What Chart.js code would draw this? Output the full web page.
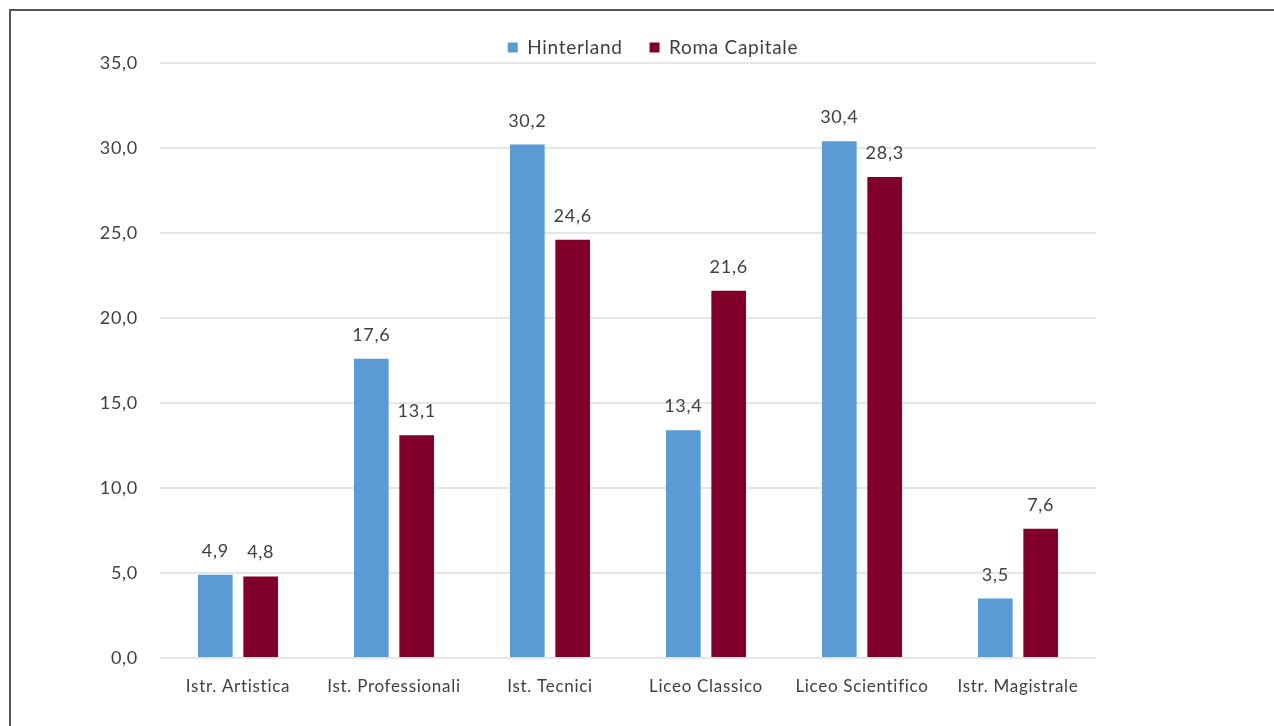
<!DOCTYPE html>
<html>
<head>
<meta charset="utf-8">
<script src="https://cdn.jsdelivr.net/npm/chart.js@4/dist/chart.umd.min.js"></script>
<style>
  html, body { margin: 0; padding: 0; background: #ffffff; overflow: hidden; }
  body { width: 1274px; height: 726px; position: relative; }
  #frame { position: absolute; left: 9px; top: 9px; width: 2000px; height: 2000px; border: 2px solid #555555; box-sizing: border-box; }
  #wrap { position: absolute; left: 0; top: 0; width: 1274px; height: 726px; }
</style>
</head>
<body>
<div id="frame"></div>
<div id="wrap"><canvas id="c" width="1274" height="726"></canvas></div>
<script>
const categories = ['Istr. Artistica', 'Ist. Professionali', 'Ist. Tecnici', 'Liceo Classico', 'Liceo Scientifico', 'Istr. Magistrale'];
const hinterland = [4.9, 17.6, 30.2, 13.4, 30.4, 3.5];
const romaCapitale = [4.8, 13.1, 24.6, 21.6, 28.3, 7.6];
const seriesNames = ['Hinterland', 'Roma Capitale'];
const yTicks = [0, 5, 10, 15, 20, 25, 30, 35];

const FONT = 'Lato';
const SPACING = '0.7px';
const fmt = v => v.toFixed(1).replace('.', ',');

const legendShift = { dx: 105, dy: 4 };

const helperPlugin = {
  id: 'helper',
  beforeLayout(chart) { chart.ctx.letterSpacing = SPACING; },
  beforeDraw(chart) { chart.ctx.letterSpacing = SPACING; },
  afterLayout(chart) {
    const lg = chart.legend;
    if (lg) {
      lg.left += legendShift.dx; lg.right += legendShift.dx;
      lg.top += legendShift.dy; lg.bottom += legendShift.dy;
    }
  },
  afterDatasetsDraw(chart) {
    const ctx = chart.ctx;
    ctx.save();
    ctx.letterSpacing = SPACING;
    ctx.font = '18px ' + FONT;
    ctx.fillStyle = '#404040';
    ctx.textAlign = 'center';
    ctx.textBaseline = 'alphabetic';
    chart.data.datasets.forEach((ds, di) => {
      const meta = chart.getDatasetMeta(di);
      meta.data.forEach((el, i) => {
        ctx.fillText(fmt(ds.data[i]), el.x, el.y - 18);
      });
    });
    ctx.restore();
  }
};

new Chart(document.getElementById('c'), {
  type: 'bar',
  data: {
    labels: categories,
    datasets: [
      { label: seriesNames[0], data: hinterland, backgroundColor: '#5B9BD5' },
      { label: seriesNames[1], data: romaCapitale, backgroundColor: '#800029' }
    ]
  },
  options: {
    responsive: false,
    animation: false,
    devicePixelRatio: 1,
    categoryPercentage: 0.582,
    barPercentage: 0.764,
    layout: { padding: { left: 0, right: 178, top: 7, bottom: 0 } },
    plugins: {
      legend: {
        position: 'top',
        labels: {
          font: { family: FONT, size: 19 },
          color: '#404040',
          boxWidth: 10,
          boxHeight: 10,
          padding: 27
        }
      },
      tooltip: { enabled: false }
    },
    scales: {
      x: {
        grid: { display: false },
        border: { display: false },
        ticks: { font: { family: FONT, size: 17 }, color: '#404040', padding: 10, maxRotation: 0, autoSkip: false },
        afterFit(s) { s.height = 68; }
      },
      y: {
        min: 0,
        max: 35,
        afterBuildTicks(s) { s.ticks = yTicks.map(v => ({ value: v })); },
        grid: { color: '#e6e6e6', lineWidth: 2, drawTicks: false },
        border: { display: false },
        ticks: { font: { family: FONT, size: 18 }, color: '#404040', padding: 22, callback: v => fmt(v) },
        afterFit(s) { s.width = 160; }
      }
    }
  },
  plugins: [helperPlugin]
});
</script>
</body>
</html>
